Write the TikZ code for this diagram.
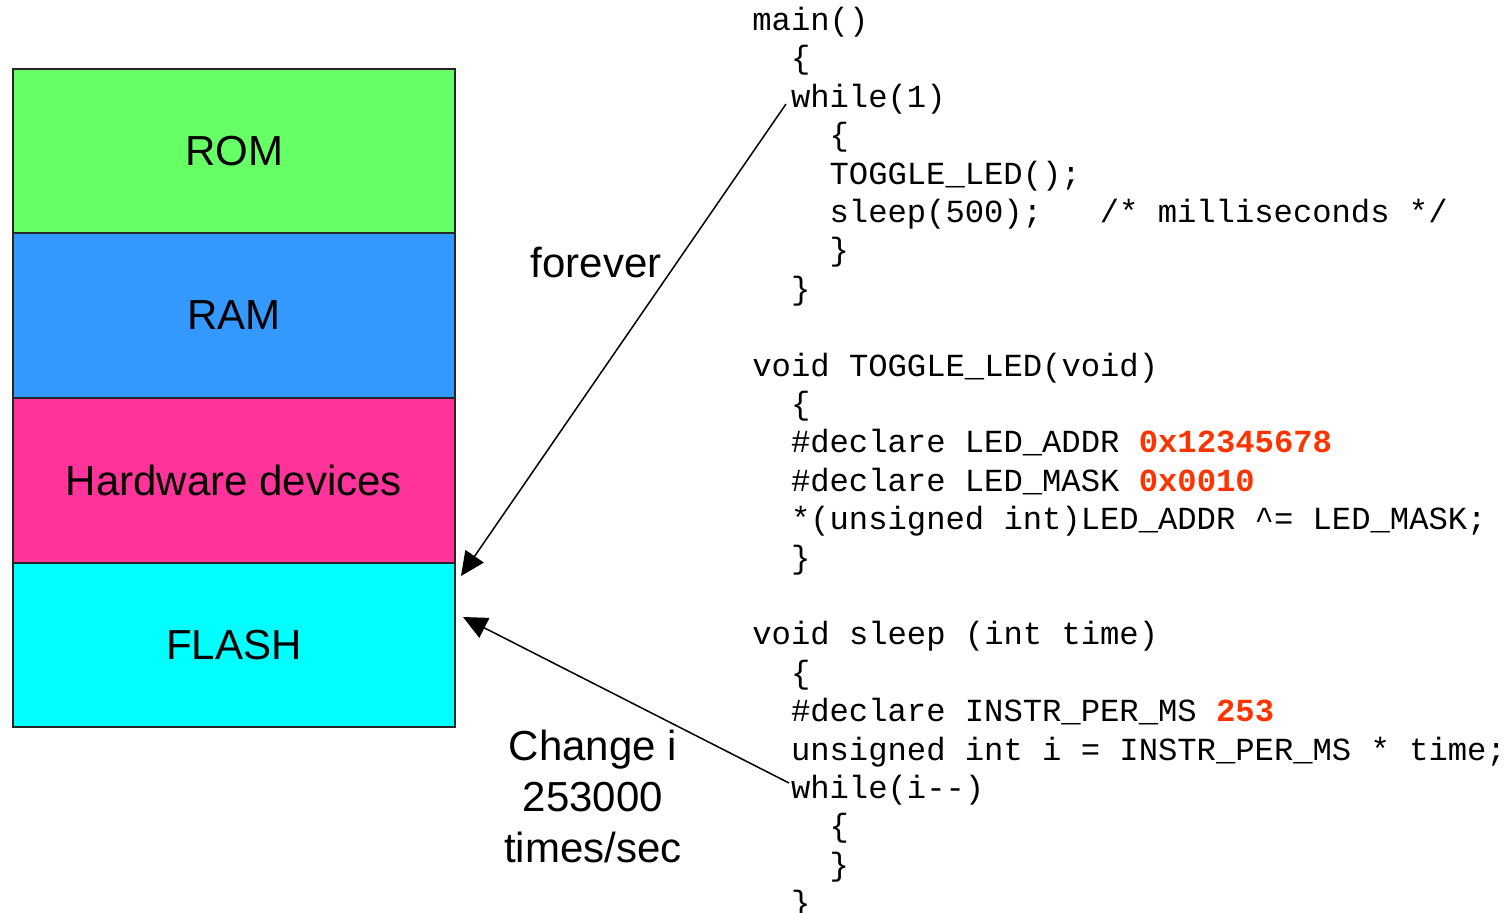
\documentclass[tikz,border=0pt]{standalone}
\usepackage{fontspec}
\setmainfont{Liberation Sans}
\newfontfamily\codefont{Liberation Mono}
\usetikzlibrary{arrows.meta}
\definecolor{romgreen}{HTML}{66FF66}
\definecolor{ramblue}{HTML}{3399FF}
\definecolor{hwpink}{HTML}{FF3399}
\definecolor{flashcyan}{HTML}{00FFFF}
\definecolor{codered}{HTML}{FF3300}
\newcommand{\hl}[1]{{\bfseries\color{codered}#1}}
\begin{document}
\begin{tikzpicture}[x=0.5pt,y=-0.5pt,
  membox/.style={draw=black!85,line width=0.8pt,minimum width=221pt,minimum height=82pt,
    inner sep=0pt,font=\fontsize{21}{25}\selectfont},
  code/.style={anchor=base west,inner sep=0pt,font=\codefont\fontsize{16.1}{19.2}\selectfont},
  lbl/.style={font=\fontsize{21}{25.5}\selectfont,align=center,inner sep=0pt},
  ptr/.style={line width=0.75pt,-{Triangle[length=12pt,width=11pt]}}]
\useasboundingbox (0,0) rectangle (1504,913);

% memory map
\node[membox,fill=romgreen]  (rom)   at (234,151)   {ROM};
\node[membox,fill=ramblue]   (ram)   at (234,315.5) {RAM};
\node[membox,fill=hwpink]    (hw)    at (234,480.5) {Hardware devices};
\node[membox,fill=flashcyan] (flash) at (234,645)   {FLASH};

% program listing: column c at x = 752 + 19.3 c, line n at y = 30.5 + 38.4 n
\node[code] (c0)  at (752,30.5)    {main()};
\node[code] (c1)  at (790.6,68.9)  {\{};
\node[code] (c2)  at (790.6,107.3) {while(1)};
\node[code] (c3)  at (829.2,145.7) {\{};
\node[code] (c4)  at (829.2,184.1) {TOGGLE\_LED();};
\node[code] (c5)  at (829.2,222.5) {sleep(500);};
\node[code] (c5b) at (1099.4,222.5){/* milliseconds */};
\node[code] (c6)  at (829.2,260.9) {\}};
\node[code] (c7)  at (790.6,299.3) {\}};

\node[code] (c9)  at (752,376.1)   {void TOGGLE\_LED(void)};
\node[code] (c10) at (790.6,414.5) {\{};
\node[code] (c11) at (790.6,452.9) {\#declare LED\_ADDR \hl{0x12345678}};
\node[code] (c12) at (790.6,491.3) {\#declare LED\_MASK \hl{0x0010}};
\node[code] (c13) at (790.6,529.7) {*(unsigned int)LED\_ADDR \textasciicircum= LED\_MASK;};
\node[code] (c14) at (790.6,568.1) {\}};

\node[code] (c16) at (752,644.9)   {void sleep (int time)};
\node[code] (c17) at (790.6,683.3) {\{};
\node[code] (c18) at (790.6,721.7) {\#declare INSTR\_PER\_MS \hl{253}};
\node[code] (c19) at (790.6,760.1) {unsigned int i = INSTR\_PER\_MS * time;};
\node[code] (c20) at (790.6,798.5) {while(i-{}-)};
\node[code] (c21) at (829.2,836.9) {\{};
\node[code] (c22) at (829.2,875.3) {\}};
\node[code] (c23) at (790.6,913.7) {\}};

% annotations
\node[lbl] (forever) at (596,263) {forever};
\node[lbl] (rate) at (593,796) {Change i\\253000\\times/sec};

% arrows from the loops to the memory map
\coordinate (loopA) at (786,104);
\coordinate (loopB) at (789,783);
\coordinate (tipA) at (461,576);
\coordinate (tipB) at (463,617);
\draw[ptr] (loopA) -- (tipA);
\draw[ptr] (loopB) -- (tipB);
\end{tikzpicture}
\end{document}
